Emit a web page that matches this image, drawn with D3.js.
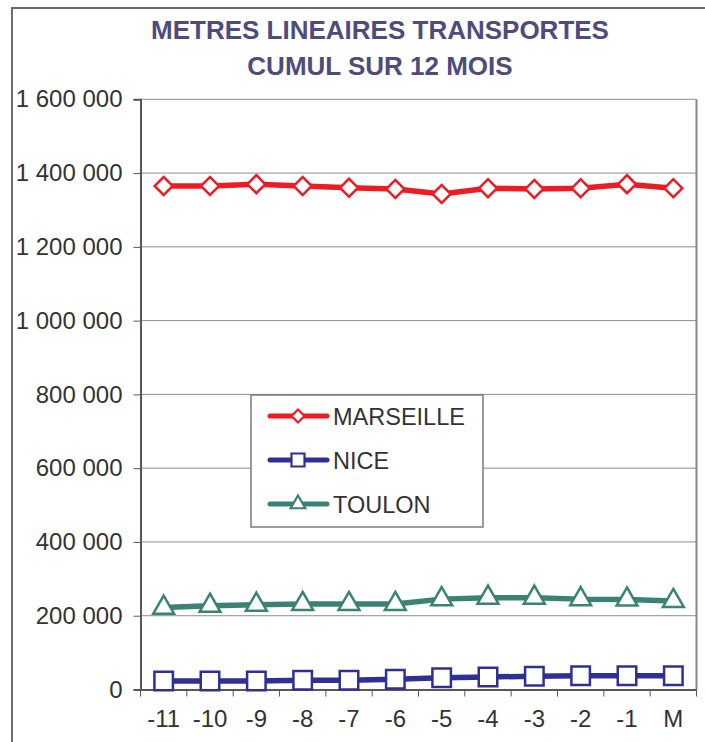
<!DOCTYPE html>
<html>
<head>
<meta charset="utf-8">
<script src="https://cdn.jsdelivr.net/npm/d3@7"></script>
<style>
  body { margin: 0; background: #fff; }
  text { font-family: "Liberation Sans", Arial, sans-serif; }
</style>
</head>
<body>
<div id="chart"></div>
<script>
const months = ["-11", "-10", "-9", "-8", "-7", "-6", "-5", "-4", "-3", "-2", "-1", "M"];
const marseille = [1365000, 1365000, 1370000, 1365000, 1360000, 1357000, 1343000, 1359000, 1357000, 1359000, 1370000, 1359000];
const nice = [23000, 23000, 23000, 25000, 25000, 28000, 32000, 34000, 36000, 37000, 37000, 37000];
const toulon = [222000, 227000, 230000, 232000, 232000, 232000, 245000, 249000, 249000, 245000, 244000, 240000];
const yTicks = [0, 200000, 400000, 600000, 800000, 1000000, 1200000, 1400000, 1600000];
const titleLines = ["METRES LINEAIRES TRANSPORTES", "CUMUL SUR 12 MOIS"];

const series = [
  { name: "MARSEILLE", values: marseille, color: "#ed1c24", symbol: "diamond" },
  { name: "NICE", values: nice, color: "#2e3192", symbol: "square" },
  { name: "TOULON", values: toulon, color: "#3b8274", symbol: "triangle" }
];

const W = 705, H = 742;
const plot = { left: 140.5, right: 696.5, top: 99.3, bottom: 689.5 };

const svg = d3.select("#chart").append("svg")
  .attr("width", W).attr("height", H);

svg.append("rect").attr("width", W).attr("height", H).attr("fill", "#fff");
// outer frame
svg.append("rect")
  .attr("x", 12).attr("y", 8).attr("width", 760).attr("height", 800)
  .attr("fill", "none").attr("stroke", "#6b6b6b").attr("stroke-width", 2);

// title
svg.append("g").selectAll("text").data(titleLines).join("text")
  .attr("x", 380).attr("y", (d, i) => 39 + i * 36)
  .attr("text-anchor", "middle")
  .attr("font-size", 26).attr("font-weight", "bold")
  .attr("fill", "#4f4c7d")
  .text(d => d);

const x = d3.scaleBand().domain(months).range([plot.left, plot.right]);
const y = d3.scaleLinear().domain([0, 1600000]).range([plot.bottom, plot.top]);

const fmt = v => d3.format(",")(v).replace(/,/g, " ");

// gridlines
svg.append("g").selectAll("line").data(yTicks).join("line")
  .attr("x1", plot.left).attr("x2", plot.right)
  .attr("y1", d => y(d)).attr("y2", d => y(d))
  .attr("stroke", "#8c8c8c").attr("stroke-width", 1);

// y axis
const yAxis = svg.append("g")
  .attr("transform", `translate(${plot.left},0)`)
  .call(d3.axisLeft(y).tickValues(yTicks).tickFormat(fmt).tickSize(7).tickPadding(11));
yAxis.select(".domain").attr("stroke", "#5e5555").attr("stroke-width", 2);
yAxis.selectAll(".tick line").attr("stroke", "#5e5555");
yAxis.selectAll(".tick text")
  .attr("font-size", 24).attr("fill", "#333")
  .attr("font-family", "Liberation Sans, Arial, sans-serif");

// right border
svg.append("line")
  .attr("x1", plot.right).attr("x2", plot.right)
  .attr("y1", plot.top).attr("y2", plot.bottom)
  .attr("stroke", "#8f8585").attr("stroke-width", 2);

// x axis
const xAxis = svg.append("g")
  .attr("transform", `translate(0,${plot.bottom})`)
  .call(d3.axisBottom(x).tickSize(0).tickPadding(20));
xAxis.select(".domain").attr("stroke", "#5e5555").attr("stroke-width", 2);
xAxis.selectAll(".tick text")
  .attr("font-size", 24).attr("fill", "#333")
  .attr("font-family", "Liberation Sans, Arial, sans-serif");
const bounds = months.map(m => x(m)).concat([plot.right]);
svg.append("g").selectAll("line").data(bounds).join("line")
  .attr("x1", d => d).attr("x2", d => d)
  .attr("y1", plot.bottom).attr("y2", plot.bottom + 7)
  .attr("stroke", "#5e5555").attr("stroke-width", 1);

const cx = m => x(m) + x.bandwidth() / 2;

function markerPath(kind, s) {
  if (kind === "diamond") return d3.symbol(d3.symbolSquare, s * s * 0.5)();
  if (kind === "square") return d3.symbol(d3.symbolSquare, s * s)();
  return d3.symbol(d3.symbolTriangle, s * s * 0.55)();
}

const line = d3.line().x((d, i) => cx(months[i])).y(d => y(d));

series.forEach(s => {
  const g = svg.append("g");
  g.append("path").datum(s.values)
    .attr("d", line)
    .attr("fill", "none").attr("stroke", s.color)
    .attr("stroke-width", 5.5).attr("stroke-linejoin", "round");
  g.selectAll("path.mk").data(s.values).join("path")
    .attr("class", "mk")
    .attr("d", markerPath(s.symbol, s.symbol === "diamond" ? 18 : 18.5))
    .attr("transform", (d, i) => `translate(${cx(months[i])},${y(d)})` + (s.symbol === "diamond" ? " rotate(45)" : ""))
    .attr("fill", "#fff").attr("stroke", s.color).attr("stroke-width", 2.5);
});

// legend
const lg = svg.append("g");
lg.append("rect")
  .attr("x", 251).attr("y", 395).attr("width", 232).attr("height", 132)
  .attr("fill", "#fff").attr("stroke", "#7a7a7a").attr("stroke-width", 1.5);
series.forEach((s, i) => {
  const ly = 416 + i * 44;
  lg.append("line")
    .attr("x1", 270).attr("x2", 327).attr("y1", ly).attr("y2", ly)
    .attr("stroke", s.color).attr("stroke-width", 5).attr("stroke-linecap", "round");
  lg.append("path")
    .attr("d", markerPath(s.symbol, 13))
    .attr("transform", `translate(298,${ly})` + (s.symbol === "diamond" ? " rotate(45)" : ""))
    .attr("fill", "#fff").attr("stroke", s.color).attr("stroke-width", 2.2);
  lg.append("text")
    .attr("x", 333).attr("y", ly + 8.5)
    .attr("font-size", 23.5).attr("fill", "#333")
    .text(s.name);
});
</script>
</body>
</html>
